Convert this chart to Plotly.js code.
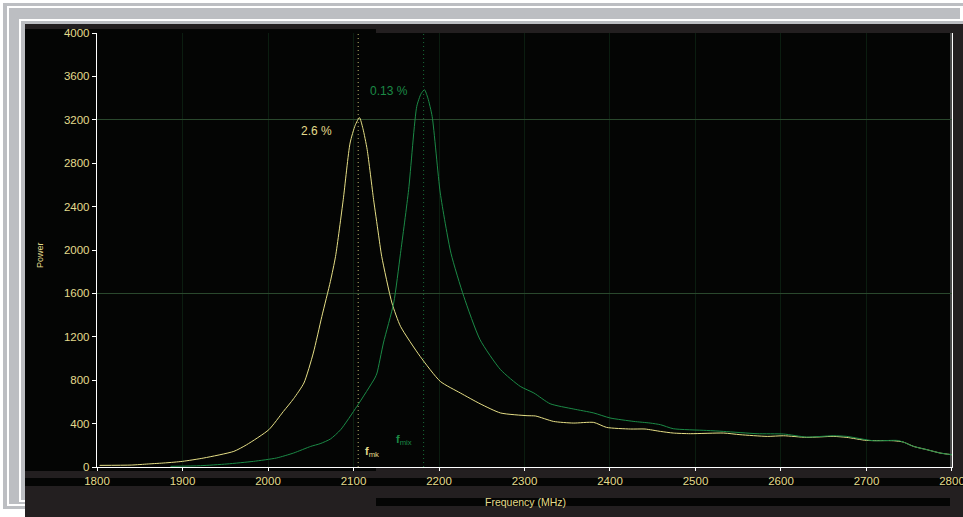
<!DOCTYPE html>
<html>
<head>
<meta charset="utf-8">
<script src="https://cdn.plot.ly/plotly-3.0.1.min.js"></script>
<style>html,body{margin:0;padding:0;background:#fff;}#chart{width:963px;height:517px;}</style>
</head>
<body>
<div id="chart"></div>
<script>
// ---- data ----
const yellowFreq = [1803,1840,1860,1880,1900,1925,1960,1975,2001,2018,2030,2042,2053,2063,2073,2079,2088,2096,2102,2107,2111,2116,2123.5,2129,2133,2145,2155,2178,2201.5,2225,2248,2272,2303,2313,2334,2357,2381,2396,2424,2441,2459,2474,2494,2533,2552,2584,2603,2630,2661,2677,2700,2732,2743,2755,2771,2786,2800];
const yellowPower = [15,18,28,38,52,83,144,205,344,512,630,774,1050,1388,1711,1941,2464,2986,3150,3220,3120,2925,2464,2157,1941,1511,1296,1019,789,682,583,498,473,470,420,405,411,365,350,350,328,313,307,313,298,282,288,273,282,273,245,242,230,190,159,129,113];

const greenFreq = [1886,1921,1952,1983,2010,2030,2050,2061,2073,2085,2104,2125,2127.5,2135,2147,2155,2164.5,2174,2179,2183,2187,2192,2201.5,2214,2229,2248,2272,2295,2311,2330,2357,2381,2400,2428,2447,2459,2474,2513,2533,2572,2603,2630,2661,2677,2708,2736,2743,2755,2771,2786,2800];
const greenPower = [6,12,28,52,83,129,190,215,258,344,559,820,866,1143,1511,1970,2556,3324,3440,3477,3400,3231,2525,1970,1572,1173,897,743,682,583,535,498,452,420,405,390,353,337,328,307,304,276,288,282,242,245,230,190,159,129,113];

const markerFreq = [2105.5, 2182];       // f_mk, f_mix
const peakLabels = ["2.6 %", "0.13 %"];
const markerLabels = ["<b>f</b><sub>mk</sub>", "<b>f</b><sub>mix</sub>"];

const xTickVals = [1800,1900,2000,2100,2200,2300,2400,2500,2600,2700,2800];
const xTickText = ["1800","1900","2000","2100","2200","2300","2400","2500","2600","2700","2800"];
const yTickVals = [0,400,800,1200,1600,2000,2400,2800,3200,3600,4000];
const yTickText = ["0","400","800","1200","1600","2000","2400","2800","3200","3600","4000"];

// ---- styling ----
const YEL = '#e6df86';
const GRN = '#1b8a46';
const TXTY = '#e3db8c';
const FONT = 'Liberation Sans, Arial';

// pixel -> paper helpers (plot area: x 97..952, y 33..467)
const L = 97, T = 33, W = 855, H = 434;
const px = v => (v - L) / W;
const py = v => (T + H - v) / H;
function rect(x0, y0, x1, y1, color) {
  return {type:'rect', xref:'paper', yref:'paper', x0:px(x0), x1:px(x1), y0:py(y1), y1:py(y0),
          fillcolor:color, line:{width:0}, layer:'below'};
}

const shapes = [
  rect(3,3,963,509,'#bcbec2'),
  rect(7,6,963,506,'#ffffff'),
  rect(9,8,960,504,'#bcbec2'),
  rect(19,19,960,502,'#ffffff'),
  rect(21,21,963,500,'#bcbec2'),
  rect(25,24,963,517,'#231f20'),
  rect(25,29,376,471,'#040504'),
  rect(376,33,950,468,'#040504'),
  rect(950,33,952,467,'#4a4a4a'),
  rect(25,478,963,486,'#040504'),
  rect(376,498,950,506,'#040504')
];

const traces = [
  {x: yellowFreq, y: yellowPower, type:'scatter', mode:'lines', line:{color:YEL, width:1, shape:'spline', smoothing:0.6}, hoverinfo:'skip'},
  {x: greenFreq, y: greenPower, type:'scatter', mode:'lines', line:{color:GRN, width:1, shape:'spline', smoothing:0.6}, hoverinfo:'skip'},
  {x: [markerFreq[0], markerFreq[0]], y:[0,4000], yaxis:'y2', type:'scatter', mode:'lines', opacity:0.8, line:{color:YEL, width:1, dash:'1px,3px'}, hoverinfo:'skip'},
  {x: [markerFreq[1], markerFreq[1]], y:[0,4000], yaxis:'y2', type:'scatter', mode:'lines', opacity:0.8, line:{color:GRN, width:1, dash:'1px,3px'}, hoverinfo:'skip'}
];

const annotations = [
  {x: 2057, y: 3100, xref:'x', yref:'y', xanchor:'center', yanchor:'middle', text: peakLabels[0], showarrow:false, font:{family:FONT, size:12, color:TXTY}},
  {x: 2142, y: 3465, xref:'x', yref:'y', xanchor:'center', yanchor:'middle', text: peakLabels[1], showarrow:false, font:{family:FONT, size:12, color:GRN}},
  {x: 2122, y: 140, xref:'x', yref:'y', xanchor:'center', yanchor:'middle', text: markerLabels[0], showarrow:false, font:{family:FONT, size:11, color:TXTY}},
  {x: 2159, y: 250, xref:'x', yref:'y', xanchor:'center', yanchor:'middle', text: markerLabels[1], showarrow:false, font:{family:FONT, size:11, color:GRN}},
  {x: px(525), y: py(502), xref:'paper', yref:'paper', xanchor:'center', yanchor:'middle', text:'Frequency (MHz)', showarrow:false, font:{family:FONT, size:10.5, color:TXTY}},
  {x: px(40), y: py(255), xref:'paper', yref:'paper', xanchor:'center', yanchor:'middle', text:'Power', textangle:-90, showarrow:false, font:{family:FONT, size:9, color:TXTY}}
];

const layout = {
  width: 963, height: 517,
  margin: {l: L, r: 963 - L - W, t: T, b: 517 - T - H, pad: 0},
  paper_bgcolor: '#ffffff',
  plot_bgcolor: '#040504',
  showlegend: false,
  font: {family:FONT, size:11, color:TXTY},
  xaxis: {
    range: [1800, 2800.01], tickvals: xTickVals, ticktext: xTickText,
    showgrid: true, gridcolor: '#0b1d10', gridwidth: 1, zeroline: false,
    showline: true, linecolor: '#ffffff', linewidth: 1.2,
    ticks: 'outside', ticklen: 3, tickcolor: '#ffffff', tickwidth: 1,
    ticklabeloverflow: 'allow',
    tickfont: {family:FONT, size:11.5, color:TXTY},
    fixedrange: true
  },
  yaxis: {
    range: [0, 4000], tickvals: yTickVals, ticktext: yTickText,
    showgrid: false, zeroline: false,
    showline: true, linecolor: '#ffffff', linewidth: 1.2, mirror: true,
    ticks: 'outside', ticklen: 4, tickcolor: '#ffffff', tickwidth: 1,
    tickfont: {family:FONT, size:11.5, color:TXTY},
    fixedrange: true
  },
  yaxis2: {
    range: [0, 4000], overlaying: 'y', side: 'left',
    tickvals: [1600, 3200], showticklabels: false, ticks: '',
    showgrid: true, gridcolor: '#2a482d', gridwidth: 1, zeroline: false, showline: false,
    fixedrange: true
  },
  shapes: shapes,
  annotations: annotations
};

Plotly.newPlot('chart', traces, layout, {staticPlot: true, displayModeBar: false});
</script>
</body>
</html>
